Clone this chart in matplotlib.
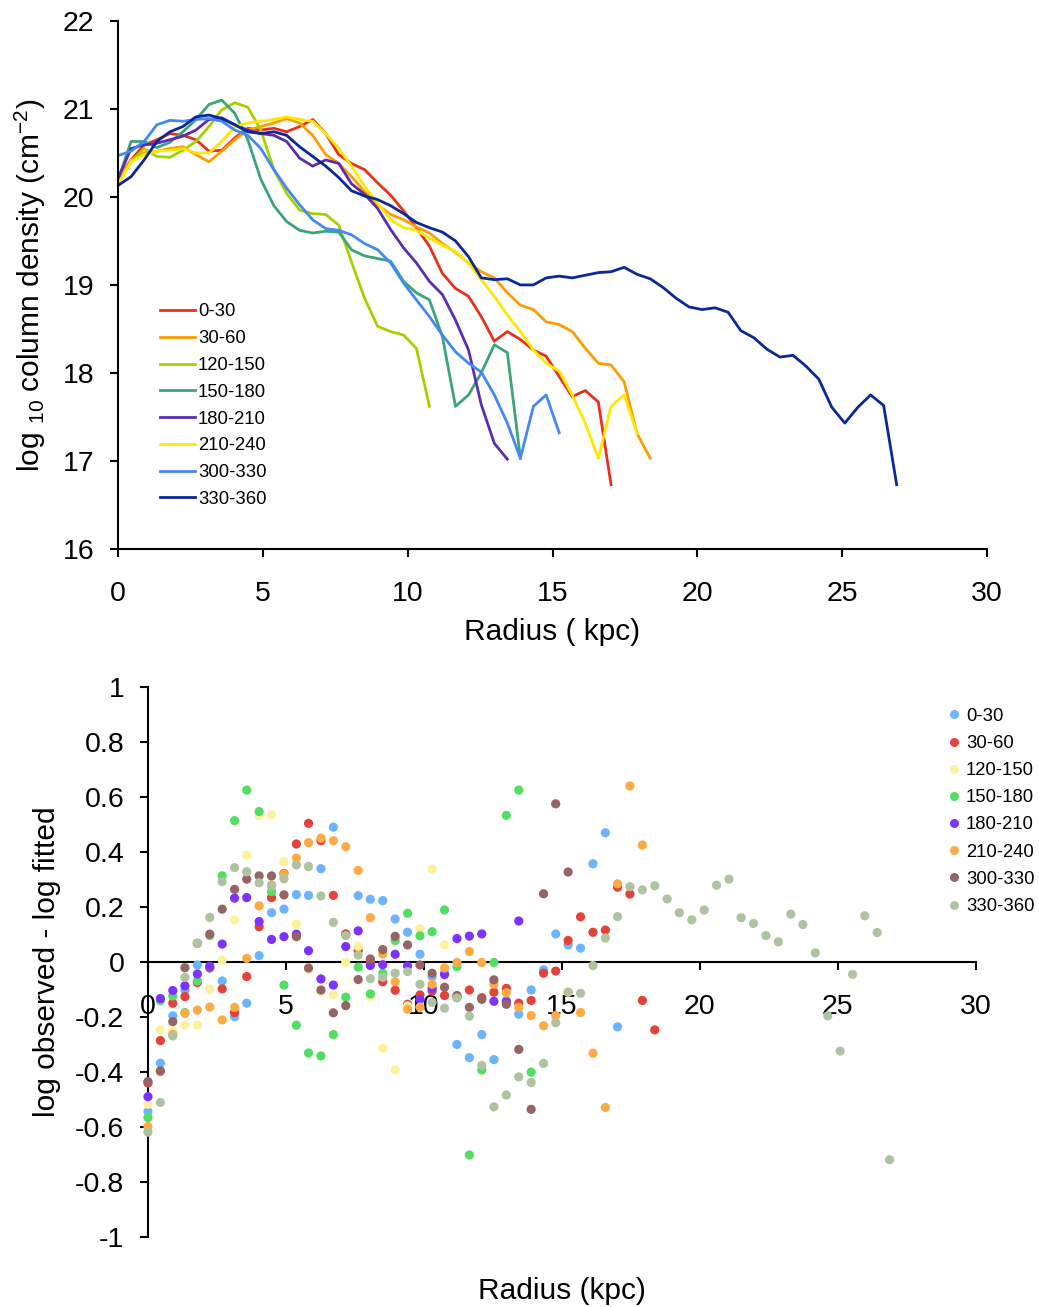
import numpy as np
import matplotlib
matplotlib.use("Agg")
import matplotlib.pyplot as plt
from matplotlib.lines import Line2D

plt.rcParams["font.family"] = ["Liberation Sans", "DejaVu Sans"]
plt.rcParams["mathtext.fontset"] = "custom"
plt.rcParams["mathtext.rm"] = "Liberation Sans"
plt.rcParams["mathtext.default"] = "regular"
plt.rcParams["axes.unicode_minus"] = False

# radius grid (kpc), shared by all sectors
radius = [0.00, 0.45, 0.90, 1.34, 1.79, 2.24, 2.69, 3.14, 3.58, 4.03,
          4.48, 4.93, 5.38, 5.82, 6.27, 6.72, 7.17, 7.62, 8.06, 8.51,
          8.96, 9.41, 9.86, 10.30, 10.75, 11.20, 11.65, 12.10, 12.54, 12.99,
          13.44, 13.89, 14.34, 14.78, 15.23, 15.68, 16.13, 16.58, 17.02, 17.47,
          17.92, 18.37, 18.82, 19.26, 19.71, 20.16, 20.61, 21.06, 21.50, 21.95,
          22.40, 22.85, 23.30, 23.74, 24.19, 24.64, 25.09, 25.54, 25.98, 26.43,
          26.88]

# --- top panel: log10 column density per sector ---
dens_labels = ["0-30", "30-60", "120-150", "150-180", "180-210", "210-240", "300-330", "330-360"]
dens_colors = ["#e8301c", "#ff9c00", "#a8d000", "#3ca578", "#5a2db2", "#ffe800", "#4488f5", "#0a2896"]

dens_0_30 = [20.21, 20.42, 20.59, 20.65, 20.72, 20.70, 20.65, 20.52, 20.53, 20.67,
             20.78, 20.76, 20.78, 20.74, 20.80, 20.88, 20.72, 20.48, 20.38, 20.31,
             20.16, 20.02, 19.84, 19.65, 19.44, 19.13, 18.96, 18.87, 18.64, 18.36,
             18.47, 18.38, 18.26, 18.19, 17.96, 17.73, 17.80, 17.67, 16.73]
dens_30_60 = [20.19, 20.42, 20.50, 20.52, 20.55, 20.57, 20.48, 20.40, 20.52, 20.65,
              20.76, 20.80, 20.84, 20.89, 20.84, 20.70, 20.48, 20.38, 20.23, 20.06,
              19.91, 19.80, 19.74, 19.66, 19.59, 19.47, 19.37, 19.25, 19.15, 19.08,
              18.91, 18.77, 18.72, 18.58, 18.55, 18.47, 18.28, 18.11, 18.09, 17.90,
              17.31, 17.03]
dens_120_150 = [20.16, 20.40, 20.55, 20.46, 20.45, 20.53, 20.63, 20.80, 20.99, 21.07,
                21.02, 20.76, 20.31, 20.04, 19.85, 19.81, 19.80, 19.68, 19.26, 18.85,
                18.53, 18.47, 18.43, 18.28, 17.62]
dens_150_180 = [20.19, 20.63, 20.63, 20.56, 20.62, 20.74, 20.88, 21.05, 21.10, 20.95,
                20.65, 20.20, 19.90, 19.72, 19.62, 19.59, 19.61, 19.60, 19.40, 19.33,
                19.30, 19.27, 19.04, 18.91, 18.83, 18.41, 17.62, 17.75, 18.00, 18.32,
                18.23, 17.03]
dens_180_210 = [20.21, 20.55, 20.59, 20.61, 20.65, 20.69, 20.76, 20.88, 20.90, 20.82,
                20.76, 20.72, 20.70, 20.63, 20.44, 20.35, 20.42, 20.38, 20.15, 20.03,
                19.87, 19.63, 19.42, 19.25, 19.04, 18.89, 18.60, 18.26, 17.64, 17.20,
                17.02]
dens_210_240 = [20.14, 20.40, 20.48, 20.52, 20.53, 20.55, 20.50, 20.50, 20.63, 20.80,
                20.84, 20.86, 20.88, 20.91, 20.88, 20.86, 20.72, 20.55, 20.35, 20.12,
                19.93, 19.74, 19.65, 19.62, 19.53, 19.45, 19.38, 19.25, 19.06, 18.87,
                18.66, 18.47, 18.26, 18.11, 18.02, 17.75, 17.43, 17.03, 17.62, 17.75,
                17.31]
dens_300_330 = [20.47, 20.52, 20.63, 20.82, 20.87, 20.86, 20.88, 20.89, 20.86, 20.76,
                20.70, 20.55, 20.31, 20.10, 19.91, 19.74, 19.64, 19.62, 19.57, 19.47,
                19.40, 19.25, 19.02, 18.83, 18.64, 18.43, 18.24, 18.11, 18.01, 17.75,
                17.43, 17.03, 17.62, 17.75, 17.32]
dens_330_360 = [20.13, 20.23, 20.42, 20.63, 20.74, 20.80, 20.91, 20.93, 20.89, 20.82,
                20.74, 20.72, 20.74, 20.70, 20.57, 20.46, 20.35, 20.22, 20.07, 20.01,
                19.97, 19.90, 19.81, 19.71, 19.65, 19.60, 19.50, 19.32, 19.08, 19.06,
                19.07, 19.00, 19.00, 19.08, 19.10, 19.08, 19.11, 19.14, 19.15, 19.20,
                19.12, 19.07, 18.97, 18.85, 18.75, 18.72, 18.74, 18.69, 18.48, 18.40,
                18.27, 18.18, 18.20, 18.08, 17.93, 17.61, 17.43, 17.61, 17.75, 17.63,
                16.73]

# --- bottom panel: residuals (log observed - log fitted) ---
res_labels = ["0-30", "30-60", "120-150", "150-180", "180-210", "210-240", "300-330", "330-360"]
res_colors = ["#6cb4ff", "#e5413b", "#fff09a", "#52dd63", "#7d33ff", "#ffaa45", "#966464", "#afc3a0"]

res_0_30 = [-0.544, -0.368, -0.196, -0.102, -0.011, -0.023, -0.069, -0.199, -0.150, 0.023,
            0.179, 0.192, 0.245, 0.242, 0.339, 0.490, 0.100, 0.241, 0.228, 0.223,
            0.156, 0.108, 0.028, -0.053, -0.040, -0.300, -0.348, -0.264, -0.355, -0.140,
            -0.190, -0.102, -0.029, 0.102, 0.062, 0.050, 0.357, 0.470, -0.236]
res_30_60 = [-0.440, -0.286, -0.150, -0.126, -0.075, -0.020, -0.098, -0.184, -0.053, 0.128,
             0.234, 0.322, 0.429, 0.504, 0.441, 0.242, 0.102, 0.042, 0.000, -0.072,
             -0.103, -0.154, -0.120, -0.106, -0.122, -0.128, -0.102, -0.130, -0.110, -0.096,
             -0.150, -0.140, -0.041, -0.033, 0.078, 0.164, 0.108, 0.116, 0.272, 0.247,
             -0.140, -0.247]
res_120_150 = [-0.517, -0.247, -0.250, -0.230, -0.229, -0.099, 0.007, 0.153, 0.388, 0.532,
               0.535, 0.365, 0.137, -0.027, -0.108, -0.120, -0.002, 0.056, -0.126, -0.314,
               -0.393, -0.160, 0.121, 0.337, 0.062]
res_150_180 = [-0.566, -0.141, -0.124, -0.184, -0.069, 0.096, 0.313, 0.514, 0.625, 0.547,
               0.256, -0.084, -0.230, -0.331, -0.342, -0.264, -0.128, -0.019, -0.116, -0.041,
               0.078, 0.177, 0.095, 0.110, 0.189, -0.017, -0.702, -0.393, -0.002, 0.533,
               0.625, -0.401]
res_180_210 = [-0.490, -0.133, -0.104, -0.087, -0.044, -0.015, 0.065, 0.232, 0.234, 0.147,
               0.082, 0.092, 0.101, 0.041, -0.062, -0.084, 0.056, 0.113, -0.013, -0.010,
               0.028, -0.015, -0.136, -0.096, -0.046, 0.085, 0.094, 0.102, -0.143, -0.145,
               0.149]
res_210_240 = [-0.599, -0.399, -0.263, -0.187, -0.175, -0.164, -0.211, -0.165, 0.013, 0.204,
               0.280, 0.320, 0.378, 0.434, 0.450, 0.441, 0.419, 0.333, 0.161, 0.029,
               -0.072, -0.172, -0.164, -0.081, -0.022, -0.002, 0.038, -0.002, -0.081, -0.112,
               -0.165, -0.195, -0.232, -0.195, -0.110, -0.184, -0.332, -0.529, 0.284, 0.640,
               0.425]
res_300_330 = [-0.435, -0.396, -0.217, -0.021, 0.068, 0.101, 0.192, 0.264, 0.301, 0.313,
               0.313, 0.244, 0.092, -0.022, -0.102, -0.185, -0.159, -0.064, 0.011, 0.045,
               0.093, 0.062, -0.011, -0.041, -0.092, -0.122, -0.165, -0.136, -0.065, -0.154,
               -0.318, -0.536, 0.248, 0.575, 0.327]
res_330_360 = [-0.619, -0.511, -0.269, -0.056, 0.068, 0.162, 0.292, 0.343, 0.328, 0.288,
               0.276, 0.302, 0.353, 0.347, 0.240, 0.144, 0.096, 0.025, -0.061, -0.056,
               -0.041, -0.035, -0.081, -0.147, -0.168, -0.131, -0.197, -0.376, -0.527, -0.484,
               -0.418, -0.438, -0.369, -0.221, -0.110, -0.114, -0.013, 0.087, 0.165, 0.274,
               0.262, 0.277, 0.229, 0.179, 0.153, 0.189, 0.279, 0.301, 0.161, 0.140,
               0.096, 0.073, 0.174, 0.136, 0.033, -0.196, -0.324, -0.045, 0.168, 0.107,
               -0.719]

dens_series = [dens_0_30, dens_30_60, dens_120_150, dens_150_180,
               dens_180_210, dens_210_240, dens_300_330, dens_330_360]
res_series = [res_0_30, res_30_60, res_120_150, res_150_180,
              res_180_210, res_210_240, res_300_330, res_330_360]

fig = plt.figure(figsize=(10.39, 13.07), dpi=100)

# top panel
ax1 = fig.add_axes([0.1136, 0.58, 0.8364, 0.404])
for vals, lab, col in zip(dens_series, dens_labels, dens_colors):
    ax1.plot(radius[:len(vals)], vals, color=col, lw=2.0, label=lab)
ax1.set_xlim(0, 30)
ax1.set_ylim(16, 22)
ax1.set_xticks(range(0, 31, 5))
ax1.set_yticks(range(16, 23))
for s in ["top", "right"]:
    ax1.spines[s].set_visible(False)
for s in ["left", "bottom"]:
    ax1.spines[s].set_linewidth(1.5)
ax1.tick_params(direction="out", length=6, width=1.5, labelsize=20.5)
ax1.tick_params(axis="x", pad=17)
ax1.tick_params(axis="y", pad=11)
ax1.set_xlabel("Radius ( kpc)", fontsize=21.5, labelpad=8)
ax1.set_ylabel("log $_{10}$ column density (cm$^{-2}$)", fontsize=21.5, labelpad=11)
ax1.legend(loc="upper left", bbox_to_anchor=(0.048, 0.465), frameon=False,
           fontsize=13.3, handlelength=1.9, handletextpad=0.17, labelspacing=0.53,
           borderpad=0, borderaxespad=0)

# bottom panel
ax2 = fig.add_axes([0.1424, 0.0536, 0.7966, 0.4208])
handles = []
for vals, lab, col in zip(res_series, res_labels, res_colors):
    ax2.scatter(radius[:len(vals)], vals, s=44, color=col, edgecolors="none",
                zorder=3, clip_on=False)
    handles.append(Line2D([], [], marker="o", ls="none", color=col,
                          markersize=6.5, markeredgewidth=0, label=lab))
ytick_vals = np.round(np.arange(-1, 1.01, 0.2), 1)
ax2.set_xlim(0, 30)
ax2.set_ylim(-1, 1)
ax2.set_xticks(range(0, 31, 5))
ax2.set_yticks(ytick_vals)
ax2.set_yticklabels(["0" if abs(v) < 1e-9 else "%g" % v for v in ytick_vals])
ax2.spines["top"].set_visible(False)
ax2.spines["right"].set_visible(False)
ax2.spines["bottom"].set_position(("data", 0))
for s in ["left", "bottom"]:
    ax2.spines[s].set_linewidth(1.5)
ax2.tick_params(direction="out", length=6, width=1.5, labelsize=20.5)
ax2.tick_params(axis="x", pad=17)
ax2.tick_params(axis="y", pad=11)
ax2.set_xlabel("Radius (kpc)", fontsize=21.5)
ax2.xaxis.set_label_coords(0.5, -0.072)
ax2.set_ylabel("log observed - log fitted", fontsize=21.5, labelpad=10)
ax2.legend(handles=handles, loc="upper left", bbox_to_anchor=(0.965, 0.962),
           frameon=False, fontsize=13.3, handlelength=0.8, handletextpad=0.25,
           labelspacing=0.55, borderpad=0, borderaxespad=0)

fig.savefig("out.png", dpi=100)
